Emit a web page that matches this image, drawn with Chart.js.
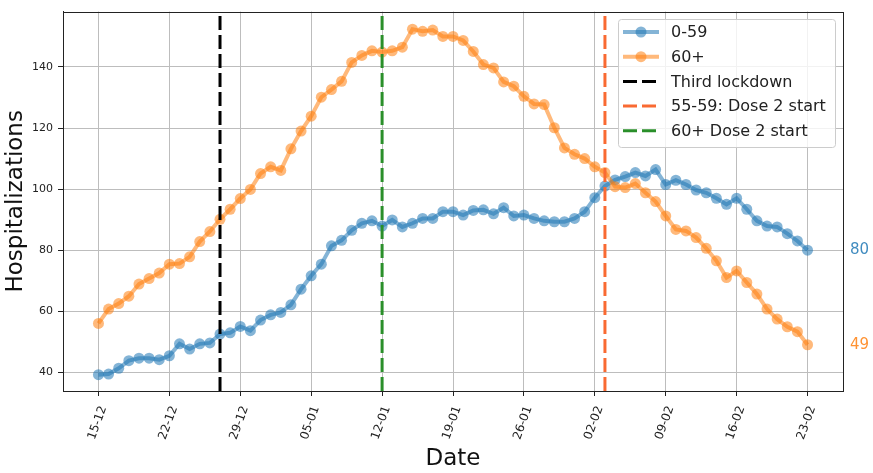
<!DOCTYPE html>
<html>
<head>
<meta charset="utf-8">
<script src="https://cdn.jsdelivr.net/npm/chart.js@4/dist/chart.umd.min.js"></script>
<style>
    body { margin: 0; background: #fff; }
    #wrap { width: 873px; height: 473px; }
</style>
</head>
<body>
<div id="wrap"><canvas id="hospChart" width="873" height="473"></canvas></div>
<script>
/* ================= DATA ================= */
const dates = [
    "15-12", "16-12", "17-12", "18-12", "19-12", "20-12", "21-12", "22-12", "23-12", "24-12",
    "25-12", "26-12", "27-12", "28-12", "29-12", "30-12", "31-12",
    "01-01", "02-01", "03-01", "04-01", "05-01", "06-01", "07-01", "08-01", "09-01", "10-01",
    "11-01", "12-01", "13-01", "14-01", "15-01", "16-01", "17-01", "18-01", "19-01", "20-01",
    "21-01", "22-01", "23-01", "24-01", "25-01", "26-01", "27-01", "28-01", "29-01", "30-01", "31-01",
    "01-02", "02-02", "03-02", "04-02", "05-02", "06-02", "07-02", "08-02", "09-02", "10-02",
    "11-02", "12-02", "13-02", "14-02", "15-02", "16-02", "17-02", "18-02", "19-02", "20-02",
    "21-02", "22-02", "23-02"
];

const under60 = [
    39.2, 39.4, 41.3, 43.8, 44.6, 44.6, 44.1, 45.4, 49.3, 47.6,
    49.3, 49.6, 52.5, 52.9, 55.0, 53.6, 57.1, 58.8, 59.6, 62.1,
    67.2, 71.6, 75.4, 81.4, 83.2, 86.5, 88.8, 89.6, 87.9, 89.9,
    87.6, 88.8, 90.4, 90.4, 92.6, 92.6, 91.5, 93.0, 93.2, 91.9,
    93.9, 91.2, 91.5, 90.4, 89.6, 89.3, 89.3, 90.4, 92.6, 97.2,
    101.0, 103.0, 104.1, 105.4, 104.3, 106.4, 101.5, 102.9, 101.5, 99.7,
    98.8, 97.0, 95.0, 97.0, 93.4, 89.6, 87.9, 87.6, 85.4, 83.0,
    80
];

const over60 = [
    56.0, 60.7, 62.5, 64.9, 68.9, 70.7, 72.5, 75.4, 75.6, 77.8,
    82.8, 86.1, 90.1, 93.4, 96.9, 99.9, 105.1, 107.3, 106.1, 113.2,
    119.0, 123.9, 130.1, 132.6, 135.3, 141.5, 143.8, 145.3, 144.9, 145.3,
    146.5, 152.4, 151.7, 152.1, 150.0, 150.0, 148.7, 145.1, 140.8, 139.7,
    135.1, 133.7, 130.4, 127.9, 127.7, 120.1, 113.5, 111.4, 110.0, 107.3,
    105.4, 100.8, 100.5, 101.8, 98.8, 95.9, 91.2, 86.8, 86.3, 84.1,
    80.6, 76.5, 71.0, 73.2, 69.4, 65.6, 60.7, 57.4, 54.9, 53.3,
    49
];

const xTickDates = ["15-12", "22-12", "29-12", "05-01", "12-01", "19-01", "26-01", "02-02", "09-02", "16-02", "23-02"];
const yTicks = [40, 60, 80, 100, 120, 140];

const eventNames = ["Third lockdown", "55-59: Dose 2 start", "60+ Dose 2 start"];
const eventDates = ["27-12", "03-02", "12-01"];
const eventColors = ["#000000", "#f96a32", "#2a8f2a"];

const seriesNames = ["0-59", "60+"];
const seriesColors = ["31, 119, 180", "255, 127, 14"];

const Y_MIN = 33.85, Y_MAX = 158.15;
const X_MIN = -3.5, X_MAX = dates.length - 1 + 3.5;

const FONT = "'DejaVu Sans', sans-serif";

/* ================= DATASETS ================= */
function seriesSet(values, i) {
    const col = "rgba(" + seriesColors[i] + ", 0.55)";
    return {
        label: seriesNames[i],
        data: values.map((v, k) => ({ x: k, y: v })),
        borderColor: col,
        backgroundColor: col,
        borderWidth: 4,
        pointRadius: 5.5,
        pointBorderWidth: 0,
        pointBackgroundColor: col,
        tension: 0,
        order: 3 - i
    };
}

const eventSets = eventNames.map((name, i) => {
    const idx = dates.indexOf(eventDates[i]);
    return {
        label: name,
        data: [{ x: idx, y: Y_MIN }, { x: idx, y: Y_MAX }],
        borderColor: eventColors[i],
        borderWidth: 3,
        borderDash: [14, 5],
        pointRadius: 0,
        order: 0
    };
});

/* ================= PLUGINS ================= */
const framePlugin = {
    id: "frame",
    afterDatasetsDraw(chart) {
        const a = chart.chartArea;
        const ctx = chart.ctx;
        ctx.save();
        ctx.strokeStyle = "#222";
        ctx.lineWidth = 1;
        ctx.strokeRect(Math.round(a.left) + 0.5, Math.round(a.top) + 0.5,
            Math.round(a.right - a.left), Math.round(a.bottom - a.top));
        ctx.restore();
    }
};

const endLabelPlugin = {
    id: "endLabels",
    afterDatasetsDraw(chart) {
        const ctx = chart.ctx;
        const ys = chart.scales.y;
        const x = chart.chartArea.right + 7;
        ctx.save();
        ctx.font = "15px " + FONT;
        ctx.textBaseline = "middle";
        ctx.textAlign = "left";
        [under60, over60].forEach((vals, i) => {
            const last = vals[vals.length - 1];
            ctx.fillStyle = "rgba(" + seriesColors[i] + ", 0.85)";
            ctx.fillText(String(Math.round(last)), x, ys.getPixelForValue(last));
        });
        ctx.restore();
    }
};

const legendPlugin = {
    id: "boxLegend",
    afterDraw(chart) {
        const ctx = chart.ctx;
        const bx = 618, by = 19, bw = 217, bh = 128;
        ctx.save();
        ctx.fillStyle = "rgba(255,255,255,0.8)";
        ctx.strokeStyle = "#cccccc";
        ctx.lineWidth = 1;
        ctx.beginPath();
        ctx.roundRect(bx + 0.5, by + 0.5, bw, bh, 3);
        ctx.fill();
        ctx.stroke();

        const rows = [];
        seriesNames.forEach((n, i) => rows.push({ name: n, kind: "series", color: "rgba(" + seriesColors[i] + ", 0.55)" }));
        eventNames.forEach((n, i) => rows.push({ name: n, kind: "event", color: eventColors[i] }));

        ctx.font = "16px " + FONT;
        ctx.textBaseline = "middle";
        rows.forEach((r, k) => {
            const cy = by + 13 + k * 24.7;
            ctx.beginPath();
            ctx.strokeStyle = r.color;
            if (r.kind === "series") {
                ctx.lineWidth = 4;
                ctx.setLineDash([]);
                ctx.moveTo(bx + 5, cy);
                ctx.lineTo(bx + 41, cy);
                ctx.stroke();
                ctx.fillStyle = r.color;
                ctx.beginPath();
                ctx.arc(bx + 23, cy, 5.5, 0, Math.PI * 2);
                ctx.fill();
            } else {
                ctx.lineWidth = 3;
                ctx.setLineDash([14, 5]);
                ctx.moveTo(bx + 5, cy);
                ctx.lineTo(bx + 41, cy);
                ctx.stroke();
                ctx.setLineDash([]);
            }
            ctx.fillStyle = "#222";
            ctx.fillText(r.name, bx + 53, cy + 1);
        });
        ctx.restore();
    }
};

/* ================= CHART ================= */
const canvas = document.getElementById("hospChart");
new Chart(canvas, {
    type: "line",
    data: {
        datasets: [...eventSets, seriesSet(over60, 1), seriesSet(under60, 0)]
    },
    options: {
        responsive: false,
        animation: false,
        devicePixelRatio: 1,
        layout: { padding: { left: 0, right: 30, top: 10, bottom: 0 } },
        plugins: {
            legend: { display: false },
            tooltip: { enabled: false }
        },
        scales: {
            x: {
                type: "linear",
                min: X_MIN,
                max: X_MAX,
                afterBuildTicks: (scale) => {
                    scale.ticks = xTickDates.map(d => ({ value: dates.indexOf(d) }));
                },
                afterFit: (scale) => { scale.height = 82; },
                ticks: {
                    callback: (v) => dates[v] ?? "",
                    minRotation: 70,
                    maxRotation: 70,
                    autoSkip: false,
                    padding: 8,
                    labelOffset: 5,
                    color: "#222",
                    font: { family: FONT, size: 12 }
                },
                grid: { color: "#bdbdbd", lineWidth: 1, tickLength: 5, tickColor: "#222" },
                border: { color: "#222", width: 1 },
                title: {
                    display: true,
                    text: "Date",
                    color: "#111",
                    padding: { top: 0, bottom: 2 },
                    font: { family: FONT, size: 23, lineHeight: 1 }
                }
            },
            y: {
                type: "linear",
                min: Y_MIN,
                max: Y_MAX,
                afterBuildTicks: (scale) => {
                    scale.ticks = yTicks.map(v => ({ value: v }));
                },
                afterFit: (scale) => { scale.width = 63; },
                ticks: {
                    padding: 5,
                    color: "#222",
                    font: { family: FONT, size: 11 }
                },
                grid: { color: "#bdbdbd", lineWidth: 1, tickLength: 5, tickColor: "#222" },
                border: { color: "#222", width: 1 },
                title: {
                    display: true,
                    text: "Hospitalizations",
                    color: "#111",
                    padding: { top: 5, bottom: 0 },
                    font: { family: FONT, size: 23, lineHeight: 1 }
                }
            }
        }
    },
    plugins: [framePlugin, endLabelPlugin, legendPlugin]
});
</script>
</body>
</html>
